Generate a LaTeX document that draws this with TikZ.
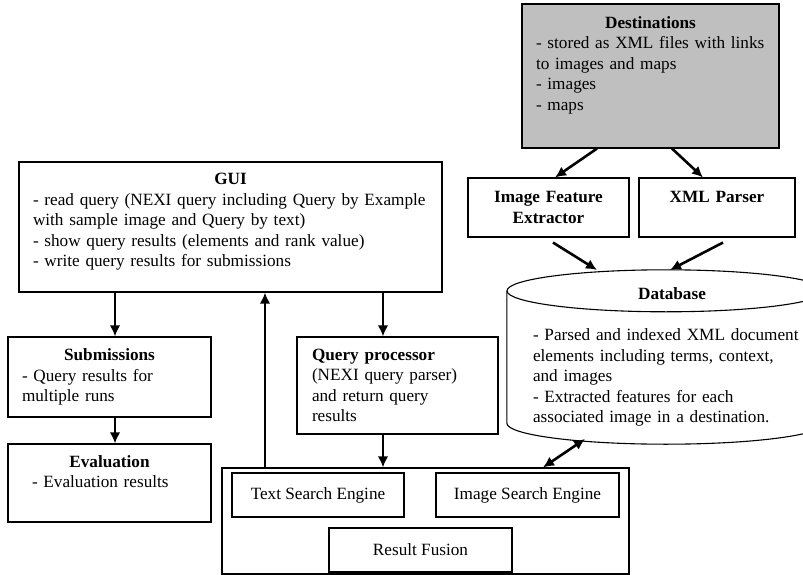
\documentclass[tikz,border=0pt]{standalone}
\usepackage{fontspec}
\setmainfont{Liberation Serif}
\usetikzlibrary{positioning}
\usetikzlibrary{shapes, arrows.meta}

\begin{document}
\begin{tikzpicture}[x=1pt, y=1pt, node distance=20pt, auto,
    font=\fontsize{17.2}{20.5}\selectfont]
    \tikzstyle{block} = [rectangle, draw, line width=1.1pt, align=left,
    inner xsep=14pt, inner ysep=0pt]
    \tikzstyle{searchbox} = [rectangle, draw, line width=1.1pt, text centered,
    minimum height=44pt]
    \tikzstyle{dbtext} = [rectangle, align=left, text width=266pt, inner sep=0pt,
    minimum width=318pt, minimum height=174pt]
    \tikzstyle{line} = [draw, line width=2.6pt, -{Latex[length=11pt, width=10.5pt]}]
    \useasboundingbox (0,0) rectangle (803,-575);
    \clip (0,0) rectangle (803,-575);
    % sources on the right
    \node [block, fill=black!25, text width=229pt, minimum height=144pt] at (650.5,-76) (dest)
    {\hfill\textbf{Destinations}\hfill\mbox{}\\
    - stored as XML files with links\\
    to images and maps\\
    - images\\
    - maps\\[5pt]\mbox{}};
    \node [block, align=center, text width=133pt, minimum height=59pt, below of=dest,
    node distance=131.5pt, xshift=-102pt] (ife) {\textbf{Image Feature}\\ \textbf{Extractor}};
    \node [block, align=center, text width=128pt, minimum height=59pt, right of=ife,
    node distance=168.5pt] (xml) {\textbf{XML Parser}\\ \mbox{}};
    \node [dbtext, below of=dest, node distance=281pt, xshift=15.5pt] (db)
    {\hfill\hspace*{12pt}\textbf{Database}\hfill\mbox{}\\[21pt]
    - Parsed and indexed XML document\\
    elements including terms, context,\\
    and images\\
    - Extracted features for each\\
    associated image in a destination.};
    % cylinder round the database text
    \draw [line width=1.1pt] ([yshift=-21pt]db.north) ellipse [x radius=159pt, y radius=21pt];
    \draw [line width=1.1pt] ([yshift=-21pt]db.north west) -- ([yshift=21pt]db.south west)
    arc [start angle=180, end angle=360, x radius=159pt, y radius=21pt]
    -- ([yshift=-21pt]db.north east);
    % user side
    \node [block, text width=395pt, minimum height=130pt] at (230.5,-227) (gui)
    {\hfill\textbf{GUI}\hfill\mbox{}\\
    - read query (NEXI query including Query by Example\\
    with sample image and Query by text)\\
    - show query results (elements and rank value)\\
    - write query results for submissions\\[-7pt]\mbox{}};
    \node [block, text width=175pt, minimum height=80pt, below of=gui,
    node distance=150pt, xshift=-121pt] (sub)
    {\hfill\textbf{Submissions}\hfill\mbox{}\\
    - Query results for\\
    multiple runs};
    \node [block, inner xsep=24pt, text width=155pt, minimum height=78pt, below of=sub,
    node distance=106pt] (eval)
    {\hfill\textbf{Evaluation}\hfill\mbox{}\\
    - Evaluation results\\[2pt]\mbox{}};
    \node [block, inner xsep=15pt, text width=171pt, minimum height=97pt, below of=gui,
    node distance=158.5pt, xshift=167pt] (query)
    {\textbf{Query processor}\\
    (NEXI query parser)\\
    and return query\\
    results};
    % search engines
    \node [rectangle, draw, line width=1.1pt, minimum width=407pt, minimum height=106pt,
    below of=query, node distance=135.5pt, xshift=28pt] (engine) {};
    \node [searchbox, minimum width=172pt, above of=engine, node distance=26pt,
    xshift=-107.5pt] (tse) {Text Search Engine};
    \node [searchbox, minimum width=183pt, right of=tse, node distance=209.5pt] (ise)
    {Image Search Engine};
    \node [searchbox, minimum width=183pt, below of=engine, node distance=29pt,
    xshift=-5pt] (fusion) {Result Fusion};
    % connectors
    \path [line] ([xshift=-53.5pt]dest.south) -- ([xshift=6.5pt]ife.north);
    \path [line] ([xshift=21.5pt]dest.south) -- ([xshift=-14pt]xml.north);
    \path [line] ([shift={(4.5pt,-5pt)}]ife.south) -- ([shift={(-69pt,87pt)}]db.center);
    \path [line] ([shift={(6pt,-5pt)}]xml.south) -- ([shift={(4pt,87pt)}]db.center);
    \path [line, {Latex[length=11pt, width=10.5pt]}-{Latex[length=11pt, width=10.5pt]}]
    ([shift={(-81pt,-82pt)}]db.center) -- ([xshift=117.5pt]engine.north);
    \path [line] ([xshift=5.5pt]sub.north |- gui.south) -- ([xshift=5.5pt]sub.north);
    \path [line] ([xshift=5.5pt]sub.south) -- ([xshift=5.5pt]eval.north);
    \path [line] ([xshift=-160.5pt]engine.north) -- ([xshift=-160.5pt]engine.north |- gui.south);
    \path [line] ([xshift=-14.5pt]query.north |- gui.south) -- ([xshift=-14.5pt]query.north);
    \path [line] ([xshift=-14.5pt]query.south) -- ([xshift=-14.5pt]query.south |- engine.north);
\end{tikzpicture}
\end{document}
